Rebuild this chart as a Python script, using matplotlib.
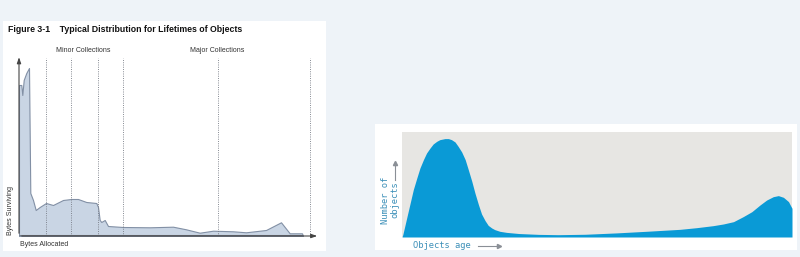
import matplotlib.pyplot as plt
from matplotlib.patches import Rectangle

W, H = 800, 257

# left chart: bytes surviving vs bytes allocated (pixel-ish units)
alloc_x = [0, 2.3, 3.3, 4.7, 7.3, 10, 11.3, 14, 16.7, 20.7, 27, 34, 44, 52.3, 59, 67.3,
           77.3, 79, 80.7, 82.3, 85.7, 89, 104, 130.7, 154, 167, 180.7, 194, 214, 227,
           247, 262, 270.7, 283, 284]
surviving = [151, 151, 141, 156, 163, 168, 43, 36, 26, 29, 33, 31, 36, 37, 37, 34,
             33, 29, 16, 14, 16, 10, 9, 8.7, 9.3, 6.7, 3.3, 5.3, 4.7, 3.7,
             6, 13.7, 2.7, 2.7, 0]
minor_gc = [27, 52, 79, 104]
major_gc = [199, 291]

# right chart: number of objects vs age (percent of axes)
age = [0, 0.2, 0.8, 1.4, 2.1, 2.9, 3.8, 4.6, 5.5, 6.3, 7.2, 8.0, 8.9, 9.7, 11.0, 11.9,
       12.7, 13.6, 14.4, 15.3, 16.2, 17.0, 17.9, 18.7, 19.6, 20.4, 21.3, 22.1, 23.0,
       23.8, 25.1, 26.8, 30, 35, 40, 47, 55, 63, 71.3, 75.6, 79.8, 82.4, 85.0, 87.5,
       89.7, 91.8, 93.5, 95.2, 96.5, 97.8, 99.1, 100]
n_objects = [0, 2.2, 11.7, 21.3, 32.4, 45.1, 56.2, 65.7, 73.7, 80.0, 84.8, 88.6, 91.1,
             92.7, 93.7, 93.7, 92.7, 90.5, 86.3, 81.0, 73.7, 64.1, 53.0, 41.9, 30.8,
             21.9, 15.6, 11.1, 8.6, 7.0, 5.4, 4.4, 3.3, 2.5, 2.2, 2.6, 3.9, 5.5, 7.3,
             8.9, 10.8, 12.4, 14.6, 19.4, 24.1, 30.5, 35.2, 38.4, 39.4, 37.8, 33.7, 27.3]

plt.rcParams['font.family'] = ['Liberation Sans', 'DejaVu Sans']

fig = plt.figure(figsize=(W / 100, H / 100), dpi=100)
fig.patch.set_facecolor('#eef3f8')


def rect(x0, y0, x1, y1):
    return [x0 / W, 1 - y1 / H, (x1 - x0) / W, (y1 - y0) / H]


# white panels behind each chart
fig.patches.append(Rectangle((3 / W, 1 - 251 / H), 323 / W, 230 / H, transform=fig.transFigure,
                             facecolor='white', edgecolor='none', zorder=-5))
fig.patches.append(Rectangle((375 / W, 1 - 250 / H), 422 / W, 126 / H, transform=fig.transFigure,
                             facecolor='white', edgecolor='none', zorder=-5))

# ---- left chart
ax = fig.add_axes(rect(19, 58, 320, 236))
ax.set_zorder(2)
ax.fill_between(alloc_x, surviving, color='#c9d5e4', edgecolor='#8290a5', linewidth=0.8)
ax.plot([0, 284], [0, 0], color='#747a85', lw=2.2, solid_capstyle='butt')
for x in minor_gc + major_gc:
    ax.axvline(x, color='#777c86', lw=0.6, ls=(0, (1.2, 1.5)), ymax=1.0)
ax.set_xlim(0, 301)
ax.set_ylim(0, 178)
ax.axis('off')
ax.annotate('', xy=(0, 1.02), xytext=(0, 0), xycoords='axes fraction',
            arrowprops=dict(arrowstyle='-|>,head_width=0.12,head_length=0.35', color='#444', lw=0.8))
ax.annotate('', xy=(1.0, 0), xytext=(0, 0), xycoords='axes fraction',
            arrowprops=dict(arrowstyle='-|>,head_width=0.12,head_length=0.35', color='#444', lw=0.8))

fig.text(8 / W, 1 - 30 / H, 'Figure 3-1    Typical Distribution for Lifetimes of Objects',
         fontsize=6.3, fontweight='bold', va='center', ha='left', color='#111')
fig.text(83 / W, 1 - 51 / H, 'Minor Collections', fontsize=5, ha='center', va='center', color='#333')
fig.text(217 / W, 1 - 51 / H, 'Major Collections', fontsize=5, ha='center', va='center', color='#333')
fig.text(11 / W, 1 - 235 / H, 'Bytes Surviving', fontsize=5, rotation=90, ha='center', va='bottom', color='#333')
fig.text(20 / W, 1 - 245 / H, 'Bytes Allocated', fontsize=5, ha='left', va='center', color='#333')

# ---- right chart
ax2 = fig.add_axes(rect(402, 132, 792, 237))
ax2.set_zorder(2)
ax2.set_facecolor('#e7e6e3')
ax2.fill_between(age, n_objects, color='#0a9ad6', lw=0)
ax2.set_xlim(0, 100)
ax2.set_ylim(0, 100)
ax2.set_xticks([])
ax2.set_yticks([])
for s in ax2.spines.values():
    s.set_visible(False)

mono = ['DejaVu Sans Mono']
fig.text(390 / W, 1 - 200 / H, 'Number of\nobjects', fontsize=6.3, family=mono, rotation=90,
         ha='center', va='center', color='#3b8fb8', linespacing=1.0)
fig.text(413 / W, 1 - 246 / H, 'Objects age', fontsize=6.3, family=mono,
         ha='left', va='center', color='#3b8fb8')
fig.add_artist(plt.Line2D([395 / W, 395 / W], [1 - 180 / H, 1 - 164 / H], color='#8a8f96', lw=0.8))
fig.add_artist(plt.Line2D([478 / W, 498 / W], [1 - 246 / H, 1 - 246 / H], color='#8a8f96', lw=0.8))
fig.add_artist(plt.Line2D([395 / W], [1 - 163 / H], marker='^', markersize=3, color='#8a8f96', lw=0))
fig.add_artist(plt.Line2D([499 / W], [1 - 246 / H], marker='>', markersize=3, color='#8a8f96', lw=0))

fig.savefig('out.png', dpi=100, facecolor=fig.get_facecolor())
